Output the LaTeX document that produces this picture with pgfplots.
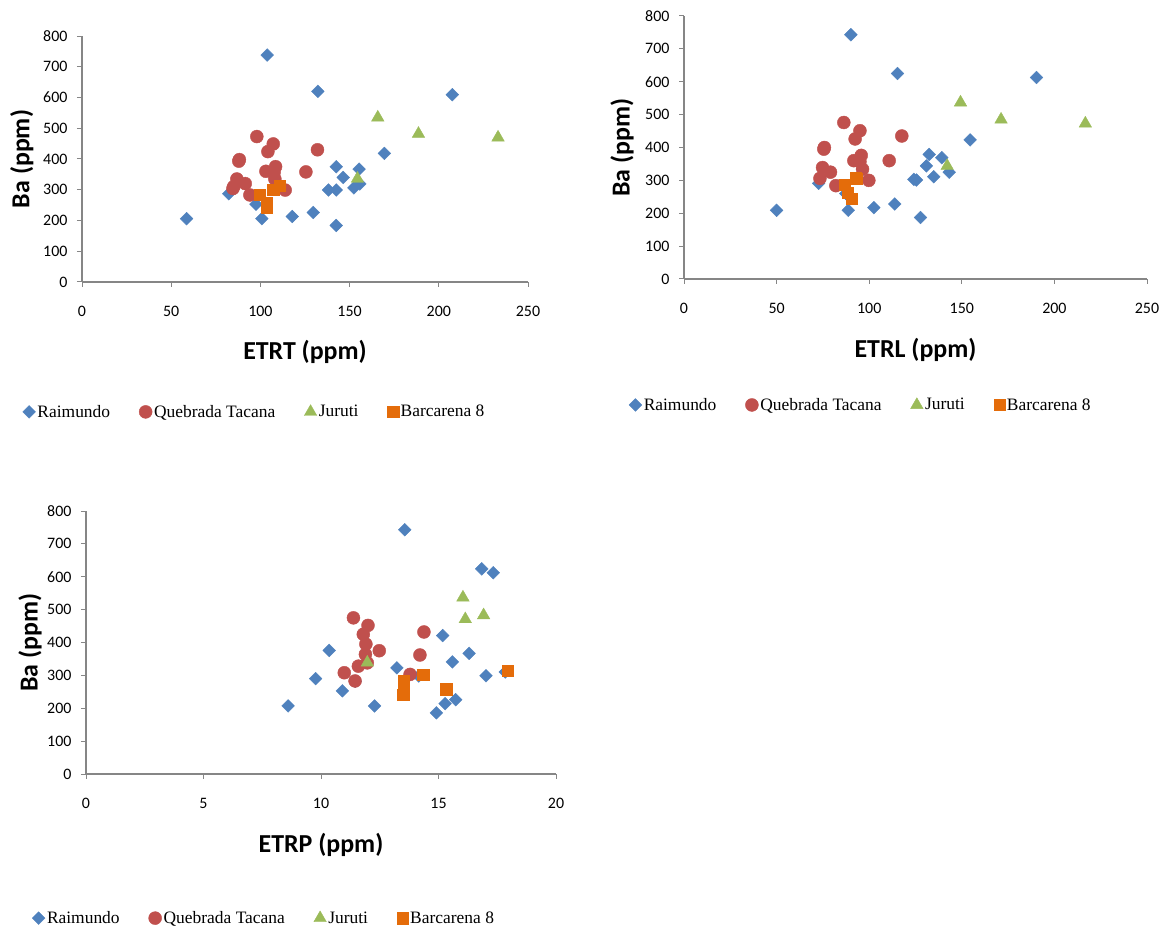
\documentclass[border=0pt]{standalone}
\usepackage{fontspec}
\setmainfont{Carlito}
\newfontfamily\legfont{Liberation Serif}
\usepackage{pgfplots}
\pgfplotsset{compat=1.18}
\definecolor{cblue}{HTML}{4F81BD}
\definecolor{cred}{HTML}{C0504D}
\definecolor{cgreen}{HTML}{9BBB59}
\definecolor{corange}{HTML}{E46C0A}
\definecolor{axgray}{HTML}{868686}
\pgfplotsset{
  myax/.style={
    scale only axis,
    axis lines=left,
    axis line style={draw=axgray, line width=1.3bp, -},
    tick style={draw=axgray, line width=1bp},
    tick align=outside,
    major tick length=5bp,
    xmin=0, ymin=0, ymax=800,
    ytick={0,100,...,800},
    tick label style={font=\fontsize{16}{16}\selectfont},
    /pgf/number format/assume math mode=true,
    xticklabel style={yshift=-16bp},
    yticklabel style={xshift=-6bp},
    label style={font=\bfseries\fontsize{26}{26}\selectfont},
    legend columns=4,
    legend style={draw=none, fill=none, font=\legfont\fontsize{17.5}{17.5}\selectfont,
      /tikz/every even column/.append style={column sep=27bp}},
    legend image code/.code={\draw[mark repeat=2,mark phase=2,##1] plot coordinates {(0bp,0bp) (6bp,0bp) (12bp,0bp)};},
    clip=false,
  },
  raim/.style={only marks, mark=square*, mark size=4.5bp, mark options={rotate=45, fill=cblue, draw=cblue}},
  queb/.style={only marks, mark=*, mark size=6.5bp, mark options={fill=cred, draw=cred}},
  juru/.style={only marks, mark=triangle*, mark size=7.2bp, mark options={fill=cgreen, draw=cgreen}},
  barc/.style={only marks, mark=square*, mark size=5.6bp, mark options={fill=corange, draw=corange}},
}
\begin{document}
\begin{tikzpicture}
\path[use as bounding box] (0,0) rectangle (1165bp,933bp);
% ---------- ETRT ----------
\begin{axis}[myax, at={(82bp,651bp)}, anchor=south west,
  width=446bp, height=246bp, xmax=250, xtick={0,50,...,250},
  xlabel={ETRT (ppm)}, ylabel={Ba (ppm)},
  x label style={at={(axis description cs:0.5,-0.285)}, anchor=center},
  y label style={at={(axis description cs:-0.135,0.5)}, anchor=center},
  legend style={at={(axis description cs:0.387,-0.528)}, anchor=center}]
\addplot[raim] coordinates {(103.8,738) (132.2,620) (207.6,609) (169.5,418) (142.5,375) (155.3,367) (146.4,340) (138.2,299) (142.5,299) (152.4,306) (155.7,319) (82.3,287) (97.5,253) (58.6,206) (100.8,206) (117.8,213) (129.6,226) (142.5,184)};
\addlegendentry{Raimundo}
\addplot[queb] coordinates {(98.0,473) (107.2,449) (104.2,424) (132.0,430) (87.9,393) (88.2,398) (108.5,375) (103.1,360) (107.7,357) (125.5,358) (108.1,335) (86.8,335) (91.5,320) (84.6,304) (85,310) (94.1,283) (113.9,299)};
\addlegendentry{Quebrada Tacana}
\addplot[juru] coordinates {(165.8,535) (188.6,482) (233.2,470) (154.4,336)};
\addlegendentry{Juruti}
\addplot[barc] coordinates {(99.7,285) (103.4,257) (103.6,241) (107.2,300) (110.7,314)};
\addlegendentry{Barcarena 8}
\end{axis}
% ---------- ETRL ----------
\begin{axis}[myax, at={(684bp,654bp)}, anchor=south west,
  width=463bp, height=263bp, xmax=250, xtick={0,50,...,250},
  xlabel={ETRL (ppm)}, ylabel={Ba (ppm)},
  x label style={at={(axis description cs:0.5,-0.27)}, anchor=center},
  y label style={at={(axis description cs:-0.134,0.5)}, anchor=center},
  legend style={at={(axis description cs:0.382,-0.479)}, anchor=center}]
\addplot[raim] coordinates {(90.1,743) (115.3,625) (190.3,613) (154.5,423) (132.4,379) (139.2,369) (130.9,344) (143.2,325) (134.9,311) (124.1,303) (125.5,301) (72.7,291) (87.4,260) (50,209) (88.7,209) (102.5,217) (113.8,228) (127.7,187)};
\addlegendentry{Raimundo}
\addplot[queb] coordinates {(86.3,476) (95,451) (92.4,426) (117.6,435) (75.5,395) (95.7,376) (91.7,360) (95,357) (110.8,360) (74.8,339) (79.1,325) (96.4,334) (73.4,306) (82,284) (99.8,300) (75.8,400)};
\addlegendentry{Quebrada Tacana}
\addplot[juru] coordinates {(149.3,537) (171.2,485) (216.7,473) (142.1,344)};
\addlegendentry{Juruti}
\addplot[barc] coordinates {(86.9,286) (92.6,309) (93.2,306) (88.3,263) (90.5,244)};
\addlegendentry{Barcarena 8}
\end{axis}
% ---------- ETRP ----------
\begin{axis}[myax, at={(86bp,159bp)}, anchor=south west,
  width=470bp, height=263bp, xmax=20, xtick={0,5,...,20},
  xlabel={ETRP (ppm)}, ylabel={Ba (ppm)},
  x label style={at={(axis description cs:0.5,-0.27)}, anchor=center},
  y label style={at={(axis description cs:-0.119,0.5)}, anchor=center},
  legend style={at={(axis description cs:0.379,-0.548)}, anchor=center}]
\addplot[raim] coordinates {(13.56,743) (16.84,624) (17.33,612) (15.18,421) (10.35,376) (16.30,367) (15.59,341) (13.23,323) (17.02,299) (17.84,310) (14.16,298) (9.77,290) (10.91,253) (11.46,282) (8.6,207) (12.28,207) (15.73,226) (15.28,214) (14.91,186)};
\addlegendentry{Raimundo}
\addplot[queb] coordinates {(11.38,475) (12.0,452) (11.8,425) (14.38,432) (11.91,395) (12.48,375) (14.21,362) (11.89,364) (11.97,338) (11.59,328) (10.99,308) (13.79,303) (11.45,283)};
\addlegendentry{Quebrada Tacana}
\addplot[juru] coordinates {(16.04,537) (16.14,471) (16.92,483) (11.97,339)};
\addlegendentry{Juruti}
\addplot[barc] coordinates {(13.53,285) (13.5,241) (13.52,265) (14.35,302) (15.33,258) (17.93,314)};
\addlegendentry{Barcarena 8}
\end{axis}
\end{tikzpicture}
\end{document}
